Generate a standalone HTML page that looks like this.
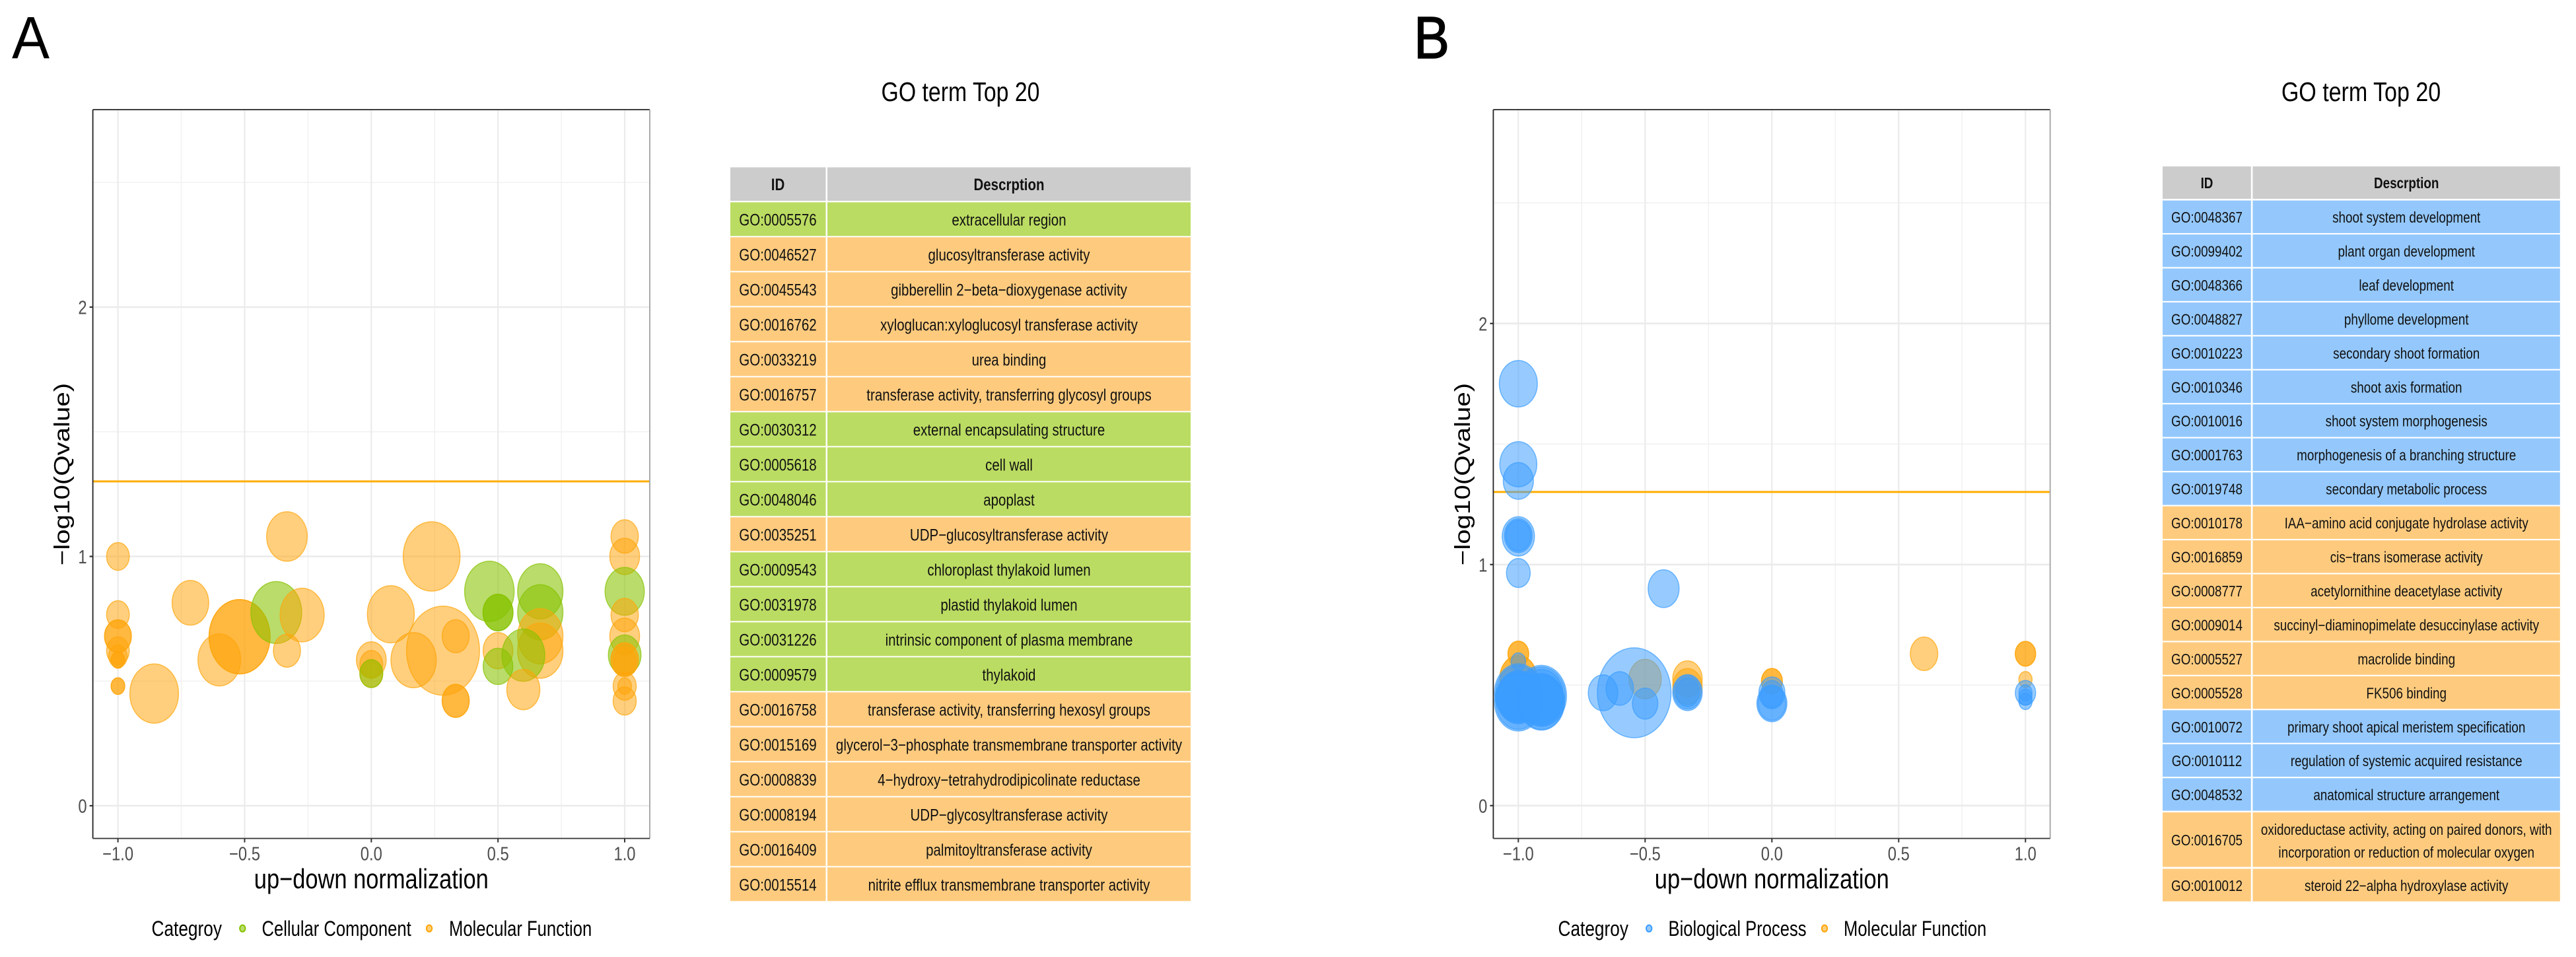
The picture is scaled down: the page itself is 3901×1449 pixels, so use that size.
<!DOCTYPE html>
<html lang="en">
<head>
<meta charset="utf-8">
<title>GO term Top 20 bubble charts</title>
<style>
html,body{margin:0;padding:0;background:#fff;}
svg{display:block;}
text{font-family:"Liberation Sans",sans-serif;fill:#000;}
.t{text-anchor:middle;font-size:25px;fill:#111;}
.b .t{font-size:23px;}
.h{font-weight:bold;}
.cc{fill:#bbdc62;}
.mf{fill:#fecb7e;}
.bp{fill:#94c8fc;}
.hd{fill:#cccccc;}
.lg{font-size:32px;}
.ttl{font-size:41px;text-anchor:middle;}
.let{font-size:90px;}
</style>
</head>
<body>
<svg id="figure" xmlns="http://www.w3.org/2000/svg" width="3901" height="1449" viewBox="0 0 3901 1449">
<rect x="0" y="0" width="3901" height="1449" fill="#fff"/>

<text class="let" transform="translate(18,88) scale(.95,1)">A</text>
<text class="let" stroke="#000" stroke-width="1.5" transform="translate(2141,88) scale(.9,1)">B</text>

<g id="chartA"></g>
<g id="chartB"></g>

<g>
<text class="lg" transform="translate(229.5,1417) scale(.82,1)">Categroy</text>
<ellipse cx="367.3" cy="1405.7" rx="4.2" ry="5.1" fill="#87c300" fill-opacity=".58" stroke="#87c300" stroke-width="2"/>
<text class="lg" transform="translate(396.5,1417) scale(.8,1)">Cellular Component</text>
<ellipse cx="650" cy="1405.7" rx="4.2" ry="5.1" fill="#ffa50a" fill-opacity=".55" stroke="#ffa50a" stroke-width="2"/>
<text class="lg" transform="translate(680,1417) scale(.8,1)">Molecular Function</text>
</g>

<g>
<text class="lg" transform="translate(2359.5,1417) scale(.82,1)">Categroy</text>
<ellipse cx="2497.2" cy="1405.7" rx="4.2" ry="5.1" fill="#3a9cff" fill-opacity=".55" stroke="#3a9cff" stroke-width="2"/>
<text class="lg" transform="translate(2526.5,1417) scale(.8,1)">Biological Process</text>
<ellipse cx="2763" cy="1405.7" rx="4.2" ry="5.1" fill="#ffa50a" fill-opacity=".55" stroke="#ffa50a" stroke-width="2"/>
<text class="lg" transform="translate(2792,1417) scale(.8,1)">Molecular Function</text>
</g>

<text class="ttl" transform="translate(1454.5,153) scale(.825,1)">GO term Top 20</text>
<text class="ttl" transform="translate(3575.5,153) scale(.83,1)">GO term Top 20</text>

<g>
<g transform="translate(0,253.4)"><rect class="hd" x="1106" width="144.5" height="50.6"/><rect class="hd" x="1253" width="550" height="50.6"/><text class="t h" transform="translate(1178,34.5) scale(.82,1)">ID</text><text class="t h" transform="translate(1528,34.5) scale(.82,1)">Descrption</text></g>
<g transform="translate(0,306.3)"><rect class="cc" x="1106" width="144.5" height="51"/><rect class="cc" x="1253" width="550" height="51"/><text class="t" transform="translate(1178,35) scale(.82,1)">GO:0005576</text><text class="t" transform="translate(1528,35) scale(.82,1)">extracellular region</text></g>
<g transform="translate(0,359.3)"><rect class="mf" x="1106" width="144.5" height="51"/><rect class="mf" x="1253" width="550" height="51"/><text class="t" transform="translate(1178,35) scale(.82,1)">GO:0046527</text><text class="t" transform="translate(1528,35) scale(.82,1)">glucosyltransferase activity</text></g>
<g transform="translate(0,412.3)"><rect class="mf" x="1106" width="144.5" height="51"/><rect class="mf" x="1253" width="550" height="51"/><text class="t" transform="translate(1178,35) scale(.82,1)">GO:0045543</text><text class="t" transform="translate(1528,35) scale(.82,1)">gibberellin 2−beta−dioxygenase activity</text></g>
<g transform="translate(0,465.3)"><rect class="mf" x="1106" width="144.5" height="51"/><rect class="mf" x="1253" width="550" height="51"/><text class="t" transform="translate(1178,35) scale(.82,1)">GO:0016762</text><text class="t" transform="translate(1528,35) scale(.82,1)">xyloglucan:xyloglucosyl transferase activity</text></g>
<g transform="translate(0,518.3)"><rect class="mf" x="1106" width="144.5" height="51"/><rect class="mf" x="1253" width="550" height="51"/><text class="t" transform="translate(1178,35) scale(.82,1)">GO:0033219</text><text class="t" transform="translate(1528,35) scale(.82,1)">urea binding</text></g>
<g transform="translate(0,571.3)"><rect class="mf" x="1106" width="144.5" height="51"/><rect class="mf" x="1253" width="550" height="51"/><text class="t" transform="translate(1178,35) scale(.82,1)">GO:0016757</text><text class="t" transform="translate(1528,35) scale(.82,1)">transferase activity, transferring glycosyl groups</text></g>
<g transform="translate(0,624.3)"><rect class="cc" x="1106" width="144.5" height="51"/><rect class="cc" x="1253" width="550" height="51"/><text class="t" transform="translate(1178,35) scale(.82,1)">GO:0030312</text><text class="t" transform="translate(1528,35) scale(.82,1)">external encapsulating structure</text></g>
<g transform="translate(0,677.3)"><rect class="cc" x="1106" width="144.5" height="51"/><rect class="cc" x="1253" width="550" height="51"/><text class="t" transform="translate(1178,35) scale(.82,1)">GO:0005618</text><text class="t" transform="translate(1528,35) scale(.82,1)">cell wall</text></g>
<g transform="translate(0,730.3)"><rect class="cc" x="1106" width="144.5" height="51"/><rect class="cc" x="1253" width="550" height="51"/><text class="t" transform="translate(1178,35) scale(.82,1)">GO:0048046</text><text class="t" transform="translate(1528,35) scale(.82,1)">apoplast</text></g>
<g transform="translate(0,783.3)"><rect class="mf" x="1106" width="144.5" height="51"/><rect class="mf" x="1253" width="550" height="51"/><text class="t" transform="translate(1178,35) scale(.82,1)">GO:0035251</text><text class="t" transform="translate(1528,35) scale(.82,1)">UDP−glucosyltransferase activity</text></g>
<g transform="translate(0,836.3)"><rect class="cc" x="1106" width="144.5" height="51"/><rect class="cc" x="1253" width="550" height="51"/><text class="t" transform="translate(1178,35) scale(.82,1)">GO:0009543</text><text class="t" transform="translate(1528,35) scale(.82,1)">chloroplast thylakoid lumen</text></g>
<g transform="translate(0,889.3)"><rect class="cc" x="1106" width="144.5" height="51"/><rect class="cc" x="1253" width="550" height="51"/><text class="t" transform="translate(1178,35) scale(.82,1)">GO:0031978</text><text class="t" transform="translate(1528,35) scale(.82,1)">plastid thylakoid lumen</text></g>
<g transform="translate(0,942.3)"><rect class="cc" x="1106" width="144.5" height="51"/><rect class="cc" x="1253" width="550" height="51"/><text class="t" transform="translate(1178,35) scale(.82,1)">GO:0031226</text><text class="t" transform="translate(1528,35) scale(.82,1)">intrinsic component of plasma membrane</text></g>
<g transform="translate(0,995.3)"><rect class="cc" x="1106" width="144.5" height="51"/><rect class="cc" x="1253" width="550" height="51"/><text class="t" transform="translate(1178,35) scale(.82,1)">GO:0009579</text><text class="t" transform="translate(1528,35) scale(.82,1)">thylakoid</text></g>
<g transform="translate(0,1048.3)"><rect class="mf" x="1106" width="144.5" height="51"/><rect class="mf" x="1253" width="550" height="51"/><text class="t" transform="translate(1178,35) scale(.82,1)">GO:0016758</text><text class="t" transform="translate(1528,35) scale(.82,1)">transferase activity, transferring hexosyl groups</text></g>
<g transform="translate(0,1101.3)"><rect class="mf" x="1106" width="144.5" height="51"/><rect class="mf" x="1253" width="550" height="51"/><text class="t" transform="translate(1178,35) scale(.82,1)">GO:0015169</text><text class="t" transform="translate(1528,35) scale(.82,1)">glycerol−3−phosphate transmembrane transporter activity</text></g>
<g transform="translate(0,1154.3)"><rect class="mf" x="1106" width="144.5" height="51"/><rect class="mf" x="1253" width="550" height="51"/><text class="t" transform="translate(1178,35) scale(.82,1)">GO:0008839</text><text class="t" transform="translate(1528,35) scale(.82,1)">4−hydroxy−tetrahydrodipicolinate reductase</text></g>
<g transform="translate(0,1207.3)"><rect class="mf" x="1106" width="144.5" height="51"/><rect class="mf" x="1253" width="550" height="51"/><text class="t" transform="translate(1178,35) scale(.82,1)">GO:0008194</text><text class="t" transform="translate(1528,35) scale(.82,1)">UDP−glycosyltransferase activity</text></g>
<g transform="translate(0,1260.3)"><rect class="mf" x="1106" width="144.5" height="51"/><rect class="mf" x="1253" width="550" height="51"/><text class="t" transform="translate(1178,35) scale(.82,1)">GO:0016409</text><text class="t" transform="translate(1528,35) scale(.82,1)">palmitoyltransferase activity</text></g>
<g transform="translate(0,1313.3)"><rect class="mf" x="1106" width="144.5" height="51"/><rect class="mf" x="1253" width="550" height="51"/><text class="t" transform="translate(1178,35) scale(.82,1)">GO:0015514</text><text class="t" transform="translate(1528,35) scale(.82,1)">nitrite efflux transmembrane transporter activity</text></g>
</g>

<g class="b">
<g transform="translate(0,252)"><rect class="hd" x="3275" width="133.8" height="49"/><rect class="hd" x="3411.4" width="465.4" height="49"/><text class="t h" transform="translate(3342,33) scale(.82,1)">ID</text><text class="t h" transform="translate(3644.2,33) scale(.82,1)">Descrption</text></g>
<g transform="translate(0,303.6)"><rect class="bp" x="3275" width="133.8" height="49.3"/><rect class="bp" x="3411.4" width="465.4" height="49.3"/><text class="t" transform="translate(3342,33.4) scale(.82,1)">GO:0048367</text><text class="t" transform="translate(3644.2,33.4) scale(.82,1)">shoot system development</text></g>
<g transform="translate(0,355.05)"><rect class="bp" x="3275" width="133.8" height="49.3"/><rect class="bp" x="3411.4" width="465.4" height="49.3"/><text class="t" transform="translate(3342,33.4) scale(.82,1)">GO:0099402</text><text class="t" transform="translate(3644.2,33.4) scale(.82,1)">plant organ development</text></g>
<g transform="translate(0,406.5)"><rect class="bp" x="3275" width="133.8" height="49.3"/><rect class="bp" x="3411.4" width="465.4" height="49.3"/><text class="t" transform="translate(3342,33.4) scale(.82,1)">GO:0048366</text><text class="t" transform="translate(3644.2,33.4) scale(.82,1)">leaf development</text></g>
<g transform="translate(0,457.95)"><rect class="bp" x="3275" width="133.8" height="49.3"/><rect class="bp" x="3411.4" width="465.4" height="49.3"/><text class="t" transform="translate(3342,33.4) scale(.82,1)">GO:0048827</text><text class="t" transform="translate(3644.2,33.4) scale(.82,1)">phyllome development</text></g>
<g transform="translate(0,509.4)"><rect class="bp" x="3275" width="133.8" height="49.3"/><rect class="bp" x="3411.4" width="465.4" height="49.3"/><text class="t" transform="translate(3342,33.4) scale(.82,1)">GO:0010223</text><text class="t" transform="translate(3644.2,33.4) scale(.82,1)">secondary shoot formation</text></g>
<g transform="translate(0,560.85)"><rect class="bp" x="3275" width="133.8" height="49.3"/><rect class="bp" x="3411.4" width="465.4" height="49.3"/><text class="t" transform="translate(3342,33.4) scale(.82,1)">GO:0010346</text><text class="t" transform="translate(3644.2,33.4) scale(.82,1)">shoot axis formation</text></g>
<g transform="translate(0,612.3)"><rect class="bp" x="3275" width="133.8" height="49.3"/><rect class="bp" x="3411.4" width="465.4" height="49.3"/><text class="t" transform="translate(3342,33.4) scale(.82,1)">GO:0010016</text><text class="t" transform="translate(3644.2,33.4) scale(.82,1)">shoot system morphogenesis</text></g>
<g transform="translate(0,663.75)"><rect class="bp" x="3275" width="133.8" height="49.3"/><rect class="bp" x="3411.4" width="465.4" height="49.3"/><text class="t" transform="translate(3342,33.4) scale(.82,1)">GO:0001763</text><text class="t" transform="translate(3644.2,33.4) scale(.82,1)">morphogenesis of a branching structure</text></g>
<g transform="translate(0,715.2)"><rect class="bp" x="3275" width="133.8" height="49.3"/><rect class="bp" x="3411.4" width="465.4" height="49.3"/><text class="t" transform="translate(3342,33.4) scale(.82,1)">GO:0019748</text><text class="t" transform="translate(3644.2,33.4) scale(.82,1)">secondary metabolic process</text></g>
<g transform="translate(0,766.65)"><rect class="mf" x="3275" width="133.8" height="49.3"/><rect class="mf" x="3411.4" width="465.4" height="49.3"/><text class="t" transform="translate(3342,33.4) scale(.82,1)">GO:0010178</text><text class="t" transform="translate(3644.2,33.4) scale(.82,1)">IAA−amino acid conjugate hydrolase activity</text></g>
<g transform="translate(0,818.1)"><rect class="mf" x="3275" width="133.8" height="49.3"/><rect class="mf" x="3411.4" width="465.4" height="49.3"/><text class="t" transform="translate(3342,33.4) scale(.82,1)">GO:0016859</text><text class="t" transform="translate(3644.2,33.4) scale(.82,1)">cis−trans isomerase activity</text></g>
<g transform="translate(0,869.55)"><rect class="mf" x="3275" width="133.8" height="49.3"/><rect class="mf" x="3411.4" width="465.4" height="49.3"/><text class="t" transform="translate(3342,33.4) scale(.82,1)">GO:0008777</text><text class="t" transform="translate(3644.2,33.4) scale(.82,1)">acetylornithine deacetylase activity</text></g>
<g transform="translate(0,921)"><rect class="mf" x="3275" width="133.8" height="49.3"/><rect class="mf" x="3411.4" width="465.4" height="49.3"/><text class="t" transform="translate(3342,33.4) scale(.82,1)">GO:0009014</text><text class="t" transform="translate(3644.2,33.4) scale(.82,1)">succinyl−diaminopimelate desuccinylase activity</text></g>
<g transform="translate(0,972.45)"><rect class="mf" x="3275" width="133.8" height="49.3"/><rect class="mf" x="3411.4" width="465.4" height="49.3"/><text class="t" transform="translate(3342,33.4) scale(.82,1)">GO:0005527</text><text class="t" transform="translate(3644.2,33.4) scale(.82,1)">macrolide binding</text></g>
<g transform="translate(0,1023.9)"><rect class="mf" x="3275" width="133.8" height="49.3"/><rect class="mf" x="3411.4" width="465.4" height="49.3"/><text class="t" transform="translate(3342,33.4) scale(.82,1)">GO:0005528</text><text class="t" transform="translate(3644.2,33.4) scale(.82,1)">FK506 binding</text></g>
<g transform="translate(0,1075.35)"><rect class="bp" x="3275" width="133.8" height="49.3"/><rect class="bp" x="3411.4" width="465.4" height="49.3"/><text class="t" transform="translate(3342,33.4) scale(.82,1)">GO:0010072</text><text class="t" transform="translate(3644.2,33.4) scale(.82,1)">primary shoot apical meristem specification</text></g>
<g transform="translate(0,1126.8)"><rect class="bp" x="3275" width="133.8" height="49.3"/><rect class="bp" x="3411.4" width="465.4" height="49.3"/><text class="t" transform="translate(3342,33.4) scale(.82,1)">GO:0010112</text><text class="t" transform="translate(3644.2,33.4) scale(.82,1)">regulation of systemic acquired resistance</text></g>
<g transform="translate(0,1178.25)"><rect class="bp" x="3275" width="133.8" height="49.3"/><rect class="bp" x="3411.4" width="465.4" height="49.3"/><text class="t" transform="translate(3342,33.4) scale(.82,1)">GO:0048532</text><text class="t" transform="translate(3644.2,33.4) scale(.82,1)">anatomical structure arrangement</text></g>
<g transform="translate(0,1230)"><rect class="mf" x="3275" width="133.8" height="82.6"/><rect class="mf" x="3411.4" width="465.4" height="82.6"/><text class="t" transform="translate(3342,49.8) scale(.82,1)">GO:0016705</text><text class="t" transform="translate(3644.2,34.2) scale(.82,1)">oxidoreductase activity, acting on paired donors, with</text><text class="t" transform="translate(3644.2,68.3) scale(.82,1)">incorporation or reduction of molecular oxygen</text></g>
<g transform="translate(0,1315.4)"><rect class="mf" x="3275" width="133.8" height="49.4"/><rect class="mf" x="3411.4" width="465.4" height="49.4"/><text class="t" transform="translate(3342,33.4) scale(.82,1)">GO:0010012</text><text class="t" transform="translate(3644.2,33.4) scale(.82,1)">steroid 22−alpha hydroxylase activity</text></g>
</g>
</svg>

<script>
// Shared axis data
const xTickValues = [-1, -0.5, 0, 0.5, 1];
const xTickLabels = ['−1.0', '−0.5', '0.0', '0.5', '1.0'];
const xMinorValues = [-0.75, -0.25, 0.25, 0.75];
const yTickValues = [0, 1, 2];
const yTickLabels = ['0', '1', '2'];
const yMinorValues = [0.5, 1.5, 2.5];
const thresholdValue = 1.301;

// Panel A data (M = Molecular Function, C = Cellular Component)
const xValuesA = [-1,-1,-1,-1,-1,-1,-1,-1,-1,-1,-0.857,-0.714,-0.6,-0.52,-0.52,-0.375,-0.273,-0.333,-0.333,0,0,0,0,0.077,0.167,0.283,0.238,0.333,0.333,0.333,0.466,0.5,0.5,0.5,0.5,0.667,0.667,0.667,0.667,0.6,0.6,1,1,1,1,1,1,1,1,1,1,1,1];
const yValuesA = [1,0.767,0.68,0.68,0.622,0.6,0.585,0.585,0.48,0.48,0.45,0.814,0.585,0.678,0.678,0.775,0.765,0.622,1.08,0.585,0.567,0.53,0.53,0.768,0.584,0.622,1,0.68,0.421,0.421,0.86,0.622,0.775,0.775,0.559,0.86,0.776,0.68,0.622,0.604,0.466,1.08,1,0.86,0.765,0.68,0.605,0.586,0.586,0.58,0.48,0.42,0.48];
const sizeValuesA = [2.96,2.96,4.12,4.12,2.96,1.96,1.06,1.06,1.06,1.06,13.54,7.67,10.43,21.34,21.34,14.82,11.09,4.2,9.42,5.06,3,3,3,12.6,11.76,30.58,18.49,4.2,4.2,4.2,14.06,5.06,5.15,5.15,5.06,11.76,11.76,11.76,11.76,10.56,6.25,4.28,5.06,8.82,4.28,5.06,6.1,4.33,4.33,2.89,3.06,3.06,1.06];
const categoriesA = ['M','M','M','M','M','M','M','M','M','M','M','M','M','M','M','C','M','M','M','M','M','M','C','M','M','M','M','M','M','M','C','M','C','C','C','C','C','M','M','C','M','M','M','C','M','M','C','M','M','M','M','M','M'];

// Panel B data (M = Molecular Function, B = Biological Process)
const xValuesB = [-1,-1,-1,-1,-0.5,-0.333,-0.333,0,0,0.6,1,1,1,-1,-1,-1,-1,-1,-1,-1,-0.427,-1,-1,-1,-1,-1,-1,-1,-1,-0.909,-0.909,-0.909,-0.909,-0.909,-0.909,-0.543,-0.666,-0.6,-0.5,-0.333,-0.333,-0.333,0,0,0,0,1,1,1,1];
const yValuesB = [0.63,0.63,0.529,0.529,0.525,0.526,0.494,0.516,0.516,0.63,0.63,0.63,0.523,1.75,1.416,1.347,1.117,1.12,1.12,0.965,0.9,0.597,0.468,0.468,0.43,0.43,0.45,0.45,0.45,0.455,0.455,0.43,0.43,0.455,0.44,0.468,0.468,0.486,0.423,0.469,0.47,0.47,0.468,0.462,0.424,0.424,0.468,0.45,0.468,0.432];
const sizeValuesB = [2.46,2.46,7.84,7.84,6,4.97,4.97,2.5,2.5,4.33,2.37,2.37,1,8.29,7.84,5.2,5.95,4.41,3.61,3.24,5.48,1.21,12.96,11.56,12.96,11.56,10.24,9,10.89,14.44,12.96,12.25,11.56,10.89,10.24,31.14,4.97,4.33,3.72,4.97,4.28,3.17,3.88,2.89,5.15,4.41,2.37,1,1,1];
const categoriesB = ['M','M','M','M','M','M','M','M','M','M','M','M','M','B','B','B','B','B','B','B','B','B','B','B','B','B','B','B','B','B','B','B','B','B','B','B','B','B','B','B','B','B','B','B','B','B','B','B','B','B'];

const categoryColors = { M: '#ffa50a', C: '#87c300', B: '#3a9cff' };
const categoryAlpha = { M: 0.53, C: 0.58, B: 0.53 };

const SVG_NS = 'http://www.w3.org/2000/svg';

function make(parent, tag, attrs) {
  const el = document.createElementNS(SVG_NS, tag);
  for (const key in attrs) el.setAttribute(key, attrs[key]);
  parent.appendChild(el);
  return el;
}

function radiusX(size) {
  return 10 * Math.sqrt(size);
}

function drawPanel(group, frame, xs, ys, sizes, cats) {
  const xScale = function (v) { return frame.xZero + v * frame.xUnit; };
  const yScale = function (v) { return frame.yZero - v * frame.yUnit; };

  xMinorValues.forEach(function (v) {
    const el = make(group, 'line', { x1: xScale(v), x2: xScale(v), y1: frame.top, y2: frame.bottom, stroke: '#f1f1f1', 'stroke-width': 1.5 });
    
    
  });
  yMinorValues.forEach(function (v) {
    const el = make(group, 'line', { x1: frame.left, x2: frame.right, y1: yScale(v), y2: yScale(v), stroke: '#f1f1f1', 'stroke-width': 1.5 });
    
    
  });
  xTickValues.forEach(function (v) {
    const el = make(group, 'line', { x1: xScale(v), x2: xScale(v), y1: frame.top, y2: frame.bottom, stroke: '#ebebeb', 'stroke-width': 2.2 });
    
    
  });
  yTickValues.forEach(function (v) {
    const el = make(group, 'line', { x1: frame.left, x2: frame.right, y1: yScale(v), y2: yScale(v), stroke: '#ebebeb', 'stroke-width': 2.6 });
    
    
  });

  const threshold = make(group, 'line', { x1: frame.left, x2: frame.right, y1: yScale(thresholdValue), y2: yScale(thresholdValue), stroke: '#ffae00', 'stroke-width': 3 });
  
  

  xs.forEach(function (x, i) {
    const rx = radiusX(sizes[i]);
    const color = categoryColors[cats[i]];
    const el = make(group, 'ellipse', {
      cx: xScale(x), cy: yScale(ys[i]), rx: rx, ry: rx * 1.22,
      fill: color, 'fill-opacity': categoryAlpha[cats[i]],
      stroke: color, 'stroke-opacity': 0.7, 'stroke-width': 1.5
    });
    
    
  });

  const topBorder = make(group, 'line', { x1: frame.left, x2: frame.right, y1: frame.top, y2: frame.top, stroke: '#222', 'stroke-width': 1.8 });
  
  
  const rightBorder = make(group, 'line', { x1: frame.right, x2: frame.right, y1: frame.top, y2: frame.bottom, stroke: '#aaaaaa', 'stroke-width': 2 });
  
  
  const leftAxis = make(group, 'line', { x1: frame.left, x2: frame.left, y1: frame.top, y2: frame.bottom, stroke: '#222', 'stroke-width': 1.8 });
  
  
  const bottomAxis = make(group, 'line', { x1: frame.left, x2: frame.right, y1: frame.bottom, y2: frame.bottom, stroke: '#333', 'stroke-width': 1.8 });
  
  

  xTickValues.forEach(function (v, i) {
    const tick = make(group, 'line', { x1: xScale(v), x2: xScale(v), y1: frame.bottom, y2: frame.bottom + 6, stroke: '#333', 'stroke-width': 2 });
    
    
    const label = make(group, 'text', { transform: 'translate(' + xScale(v) + ',1302.7) scale(.82,1)', 'text-anchor': 'middle', 'font-size': 29, style: 'fill:#4d4d4d' });
    label.textContent = xTickLabels[i];
    
    
  });
  yTickValues.forEach(function (v, i) {
    const tick = make(group, 'line', { x1: frame.left - 5, x2: frame.left, y1: yScale(v), y2: yScale(v), stroke: '#333', 'stroke-width': 2.2 });
    
    
    const label = make(group, 'text', { transform: 'translate(' + (frame.left - 9) + ',' + (yScale(v) + 10.5) + ') scale(.82,1)', 'text-anchor': 'end', 'font-size': 29, style: 'fill:#4d4d4d' });
    label.textContent = yTickLabels[i];
    
    
  });

  const xTitle = make(group, 'text', { transform: 'translate(' + xScale(0) + ',1345) scale(.82,1)', 'text-anchor': 'middle', 'font-size': 42 });
  xTitle.textContent = 'up−down normalization';
  
  

  const yTitle = make(group, 'text', { transform: 'translate(' + (frame.left - 35.6) + ',718) rotate(-90) scale(1.22,1)', 'text-anchor': 'middle', 'font-size': 33 });
  yTitle.textContent = '−log10(Qvalue)';
  
  
}

drawPanel(document.getElementById('chartA'),
  { left: 140.6, right: 984, top: 166, bottom: 1269.5, xZero: 562.3, xUnit: 383.7, yZero: 1220, yUnit: 377.5 },
  xValuesA, yValuesA, sizeValuesA, categoriesA);

drawPanel(document.getElementById('chartB'),
  { left: 2261.4, right: 3104.7, top: 166, bottom: 1269.5, xZero: 2683.3, xUnit: 384, yZero: 1219.8, yUnit: 365 },
  xValuesB, yValuesB, sizeValuesB, categoriesB);
</script>
</body>
</html>
